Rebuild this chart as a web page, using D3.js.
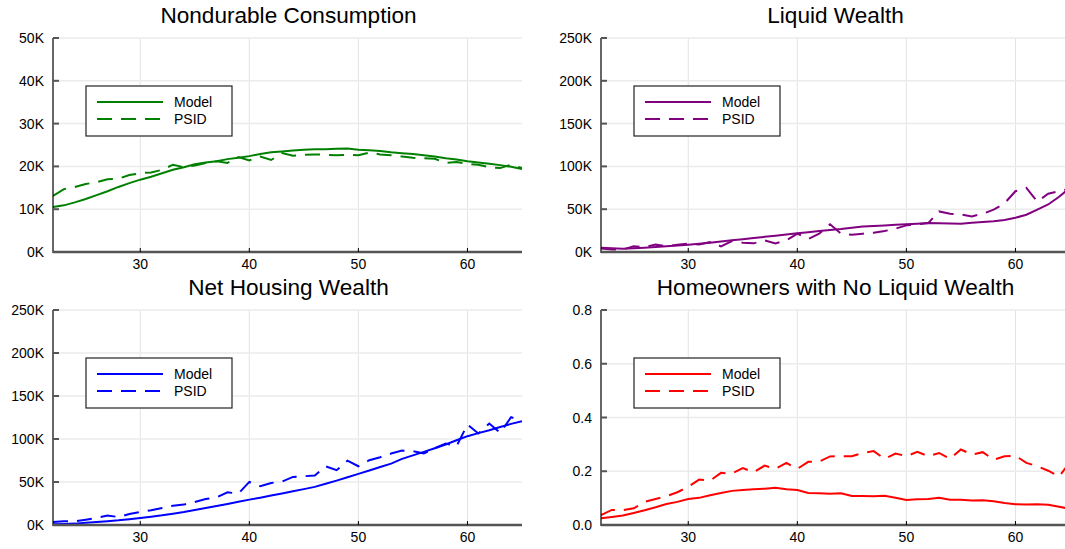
<!DOCTYPE html>
<html>
<head>
<meta charset="utf-8">
<script src="https://cdn.jsdelivr.net/npm/d3@7"></script>
<style>
  html, body { margin: 0; padding: 0; background: #fff; }
  svg { display: block; }
  text { font-family: "Liberation Sans", Arial, sans-serif; fill: #000; }
</style>
</head>
<body>
<svg id="chart" width="1065" height="549"></svg>
<script>
// ---------- data ----------
const ages = d3.range(22, 66); // 22..65

const consumptionModel = [10.5,10.9,11.6,12.4,13.3,14.2,15.2,16.1,16.9,17.6,18.4,19.2,19.8,20.5,20.9,21.2,21.7,22.0,22.4,22.9,23.3,23.5,23.7,23.9,24.0,24.0,24.1,24.2,23.9,23.8,23.6,23.3,23.1,22.9,22.6,22.3,21.9,21.6,21.2,20.9,20.6,20.3,19.9,19.4];
const consumptionPSID  = [13.1,14.7,15.2,15.9,16.3,17.0,17.1,18.0,18.4,18.6,19.2,20.4,19.8,20.2,20.8,21.2,20.8,22.2,21.4,22.3,21.5,23.1,22.5,22.7,22.8,22.7,22.6,22.7,22.6,23.2,22.8,22.6,22.3,22.0,21.9,21.8,20.8,21.0,20.6,20.4,19.8,19.6,20.4,19.6];

const liquidModel = [5.1,4.5,3.9,4.5,5.1,5.8,6.6,7.6,8.6,9.7,10.9,12.2,13.6,14.9,16.3,17.7,19.1,20.4,21.8,23.1,24.5,25.6,26.8,28.4,29.9,30.5,31.1,31.7,32.3,33.0,33.8,33.6,33.4,33.0,34.2,35.0,35.8,37.5,40.0,43.5,49.4,55.5,64.5,75.0];
const liquidPSID  = [4.0,3.0,3.0,6.6,5.8,8.6,6.6,8.6,9.7,8.9,11.7,6.6,12.8,10.9,10.1,13.6,10.1,13.6,21.4,15.2,21.4,32.3,21.4,20.2,21.4,22.5,24.5,27.2,31.1,32.3,33.8,47.4,44.7,43.9,41.6,44.7,49.4,57.0,71.0,75.0,59.0,68.0,71.0,74.0];

const housingModel = [0.8,1.2,1.6,2.5,3.5,4.4,5.4,6.8,8.2,9.7,11.3,13.2,15.1,17.4,19.8,22.1,24.5,27.0,29.5,31.8,34.2,36.7,39.2,41.7,44.3,47.9,51.6,55.5,59.4,63.4,67.5,71.4,76.9,81.0,85.0,89.3,93.6,98.5,103.3,106.8,110.2,114.0,117.6,120.7];
const housingPSID  = [3.5,4.3,4.3,6.2,8.2,10.9,9.3,12.8,15.1,17.1,19.8,22.5,23.7,26.8,30.3,32.2,38.0,36.5,50.1,45.0,48.9,50.5,55.9,56.7,57.5,68.3,63.7,74.9,68.3,75.3,78.8,83.1,86.6,85.8,83.1,89.3,94.7,91.6,116.8,106.4,118.0,107.1,125.4,120.7];

const ownersModel = [0.025,0.030,0.035,0.045,0.055,0.066,0.078,0.086,0.097,0.101,0.111,0.119,0.127,0.130,0.133,0.135,0.139,0.133,0.130,0.119,0.118,0.116,0.118,0.108,0.108,0.107,0.109,0.101,0.093,0.096,0.097,0.101,0.094,0.094,0.091,0.092,0.088,0.082,0.077,0.076,0.077,0.075,0.068,0.060];
const ownersPSID  = [0.037,0.056,0.055,0.062,0.086,0.097,0.107,0.122,0.142,0.169,0.165,0.194,0.191,0.212,0.196,0.221,0.209,0.231,0.209,0.235,0.236,0.255,0.256,0.256,0.268,0.275,0.246,0.266,0.256,0.272,0.256,0.268,0.246,0.281,0.262,0.271,0.243,0.256,0.258,0.231,0.219,0.202,0.180,0.235];

const titles = ["Nondurable Consumption", "Liquid Wealth", "Net Housing Wealth", "Homeowners with No Liquid Wealth"];
const xTicks = [30, 40, 50, 60];
const yTicksK50 = [0, 10, 20, 30, 40, 50];
const yTicksK250 = [0, 50, 100, 150, 200, 250];
const yTicksShare = [0, 0.2, 0.4, 0.6, 0.8];
const legendLabels = ["Model", "PSID"];
const colors = ["#008000", "#800080", "#0000ff", "#ff0000"];

// ---------- layout ----------
const svg = d3.select("#chart");
const panels = [
  {title: titles[0], model: consumptionModel, psid: consumptionPSID, ticks: yTicksK50, max: 50, fmt: d => d + "K", color: colors[0], x0: 53, x1: 522, y0: 38, y1: 252},
  {title: titles[1], model: liquidModel, psid: liquidPSID, ticks: yTicksK250, max: 250, fmt: d => d + "K", color: colors[1], x0: 601, x1: 1070, y0: 38, y1: 252},
  {title: titles[2], model: housingModel, psid: housingPSID, ticks: yTicksK250, max: 250, fmt: d => d + "K", color: colors[2], x0: 53, x1: 522, y0: 310, y1: 525},
  {title: titles[3], model: ownersModel, psid: ownersPSID, ticks: yTicksShare, max: 0.8, fmt: d3.format(".1f"), color: colors[3], x0: 601, x1: 1070, y0: 310, y1: 525}
];

panels.forEach((p, i) => {
  const x = d3.scaleLinear().domain([22, 65]).range([p.x0, p.x1]);
  const y = d3.scaleLinear().domain([0, p.max]).range([p.y1, p.y0]);
  const g = svg.append("g");

  // grid
  g.selectAll(".vg").data(xTicks).enter().append("line")
    .attr("x1", d => x(d)).attr("x2", d => x(d))
    .attr("y1", p.y0).attr("y2", p.y1)
    .attr("stroke", "#e3e3e3").attr("stroke-width", 1);
  g.selectAll(".hg").data(p.ticks.slice(1)).enter().append("line")
    .attr("x1", p.x0).attr("x2", p.x1)
    .attr("y1", d => y(d)).attr("y2", d => y(d))
    .attr("stroke", "#ebebeb").attr("stroke-width", 1.5);

  // clip
  const cid = "clip" + i;
  svg.append("clipPath").attr("id", cid).append("rect")
    .attr("x", p.x0).attr("y", p.y0 - 5).attr("width", p.x1 - p.x0).attr("height", p.y1 - p.y0 + 5);

  const line = d3.line().x((d, j) => x(ages[j])).y(d => y(d));
  const lg = g.append("g").attr("clip-path", `url(#${cid})`);
  lg.append("path").attr("d", line(p.model))
    .attr("fill", "none").attr("stroke", p.color).attr("stroke-width", 2);
  lg.append("path").attr("d", line(p.psid))
    .attr("fill", "none").attr("stroke", p.color).attr("stroke-width", 2)
    .attr("stroke-dasharray", "15,9");

  // axes
  g.append("line").attr("x1", p.x0).attr("x2", p.x1).attr("y1", p.y1).attr("y2", p.y1)
    .attr("stroke", "#555").attr("stroke-width", 2.5);
  g.append("line").attr("x1", p.x0).attr("x2", p.x0).attr("y1", p.y0).attr("y2", p.y1 + 1)
    .attr("stroke", "#000").attr("stroke-width", 1.2);

  // y ticks & labels
  g.selectAll(".yt").data(p.ticks).enter().append("line")
    .attr("x1", p.x0).attr("x2", p.x0 + 6)
    .attr("y1", d => y(d)).attr("y2", d => y(d))
    .attr("stroke", "#555").attr("stroke-width", 2);
  g.selectAll(".yl").data(p.ticks).enter().append("text")
    .attr("x", p.x0 - 9).attr("y", d => y(d)).attr("dy", "0.36em")
    .attr("text-anchor", "end").attr("font-size", 14).text(p.fmt);

  // x ticks & labels
  g.selectAll(".xt").data(xTicks).enter().append("line")
    .attr("x1", d => x(d)).attr("x2", d => x(d))
    .attr("y1", p.y1).attr("y2", p.y1 - 4)
    .attr("stroke", "#000").attr("stroke-width", 1);
  g.selectAll(".xl").data(xTicks).enter().append("text")
    .attr("x", d => x(d)).attr("y", p.y1 + 17)
    .attr("text-anchor", "middle").attr("font-size", 14).text(d => d);

  // title
  g.append("text").attr("x", (p.x0 + p.x1) / 2 + (i % 2 === 0 ? 1 : 0))
    .attr("y", p.y0 - 15).attr("text-anchor", "middle").attr("font-size", 22.6).text(p.title);

  // legend
  const lx = p.x0 + 33, ly = p.y0 + 48;
  g.append("rect").attr("x", lx).attr("y", ly).attr("width", 146).attr("height", 50)
    .attr("fill", "#fff").attr("stroke", "#222").attr("stroke-width", 1.2);
  legendLabels.forEach((lab, k) => {
    const yy = ly + 16 + k * 17;
    g.append("line").attr("x1", lx + 11).attr("x2", lx + 77).attr("y1", yy).attr("y2", yy)
      .attr("stroke", p.color).attr("stroke-width", 2)
      .attr("stroke-dasharray", k === 1 ? "15,9" : null);
    g.append("text").attr("x", lx + 88).attr("y", yy).attr("dy", "0.36em")
      .attr("font-size", 14).text(lab);
  });
});
</script>
</body>
</html>
